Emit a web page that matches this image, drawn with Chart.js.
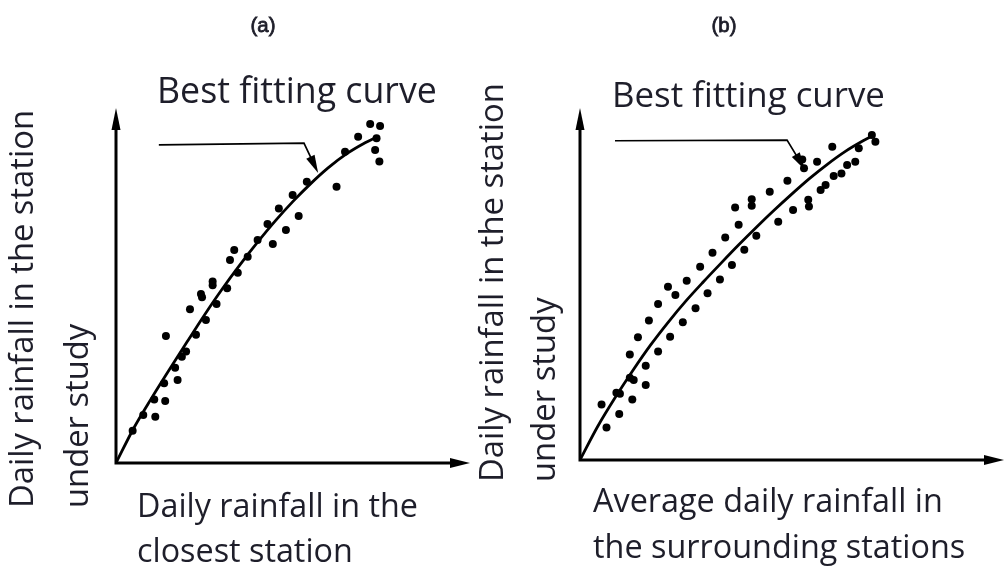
<!DOCTYPE html>
<html>
<head>
<meta charset="utf-8">
<script src="https://cdn.jsdelivr.net/npm/chart.js@4.4.1/dist/chart.umd.min.js"></script>
<style>
  html, body { margin: 0; padding: 0; background: #fff; }
  #wrap { position: relative; width: 1008px; height: 569px; overflow: hidden; }
  #wrap canvas { position: absolute; left: 0; top: 0; }
</style>
</head>
<body>
<div id="wrap">
  <canvas id="chartA" width="1008" height="569"></canvas>
  <canvas id="chartB" width="1008" height="569"></canvas>
</div>
<script>
// ---- (a) closest station: observed pairs, fitted curve, leader line ----
const pointsA = [
  [0.47, 0.91], [0.77, 1.35], [1.11, 1.30], [1.08, 1.79], [1.39, 1.75],
  [1.36, 2.25], [1.74, 2.34], [1.67, 2.68], [1.86, 2.99], [1.98, 3.14],
  [1.41, 3.58], [2.26, 3.61], [2.54, 4.03], [2.09, 4.33], [2.40, 4.76],
  [2.43, 4.67], [2.84, 4.48], [2.73, 5.11], [2.73, 5.01], [3.14, 4.92],
  [3.22, 5.72], [3.34, 6.00], [3.44, 5.36], [3.72, 5.81], [4.00, 6.28],
  [4.43, 6.17], [4.28, 6.73], [4.80, 6.56], [4.60, 7.17], [5.16, 6.96],
  [4.99, 7.55], [5.39, 7.92], [6.23, 7.78], [6.47, 8.77], [6.84, 9.19],
  [7.18, 9.55], [7.46, 9.49], [7.36, 9.15], [7.32, 8.82], [7.44, 8.49]
];
const curveA = [
  [0, 0], [0.5, 0.98], [1.0, 1.82], [1.5, 2.62], [2.0, 3.40], [2.5, 4.17],
  [3.0, 4.90], [3.5, 5.58], [4.0, 6.22], [4.5, 6.82], [5.0, 7.37], [5.5, 7.87],
  [6.0, 8.32], [6.5, 8.70], [7.0, 9.00], [7.4, 9.20]
];
const leaderA = [[1.21, 8.96], [5.31, 9.01], [5.71, 8.17]];

// ---- (b) surrounding stations average ----
const pointsB = [
  [0.75, 0.92], [1.11, 1.31], [0.61, 1.58], [1.03, 1.91], [1.13, 1.88],
  [1.48, 1.72], [1.41, 2.34], [1.52, 2.27], [1.86, 2.13], [1.86, 2.68],
  [1.41, 3.00], [2.21, 3.08], [1.64, 3.49], [2.55, 3.50], [1.95, 3.96],
  [2.91, 3.91], [2.21, 4.43], [2.49, 4.92], [2.70, 4.69], [3.27, 4.31],
  [3.02, 5.09], [3.61, 4.74], [3.40, 5.49], [3.96, 5.13], [3.75, 5.89],
  [4.30, 5.54], [4.11, 6.32], [4.65, 5.97], [4.49, 6.68], [4.99, 6.37],
  [4.39, 7.17], [4.86, 7.41], [4.86, 7.22], [5.61, 6.77], [5.37, 7.62],
  [6.03, 7.10], [5.87, 7.93], [6.46, 7.39], [6.48, 7.20], [6.29, 8.54],
  [6.34, 8.29], [6.71, 8.47], [6.81, 7.67], [6.95, 7.81], [7.18, 8.07],
  [7.40, 8.14], [7.56, 8.38], [7.14, 8.90], [7.79, 8.47], [7.89, 8.86],
  [8.26, 9.23], [8.36, 9.04]
];
const curveB = [
  [0, 0], [0.5, 0.95], [1.0, 1.78], [1.5, 2.55], [2.0, 3.27], [2.5, 3.92],
  [3.0, 4.52], [3.5, 5.07], [4.0, 5.60], [4.5, 6.12], [5.0, 6.62], [5.5, 7.10],
  [6.0, 7.56], [6.5, 8.00], [7.0, 8.40], [7.5, 8.76], [8.0, 9.06], [8.3, 9.22]
];
const leaderB = [[0.99, 9.07], [5.86, 9.09], [6.37, 8.24]];

// ---- text ----
const panelTags = ['(a)', '(b)'];
const calloutText = 'Best fitting curve';
const yTitleLines = ['Daily rainfall in the station', 'under study'];
const xTitleLinesA = ['Daily rainfall in the', 'closest station'];
const xTitleLinesB = ['Average daily rainfall in', 'the surrounding stations'];

const FONT = '"Open Sans", "Liberation Sans", sans-serif';
const TAG_FAMILY = '"Liberation Sans", sans-serif';
const INK = '#1e1e2a';

function fitSize(ctx, text, width, family) {
  ctx.font = '30px ' + (family || FONT);
  return 30 * width / ctx.measureText(text).width;
}

function head(ctx, tx, ty, fx, fy, len, half) {
  const dx = tx - fx, dy = ty - fy, d = Math.hypot(dx, dy) || 1;
  const ux = dx / d, uy = dy / d;
  const bx = tx - ux * len, by = ty - uy * len;
  ctx.beginPath();
  ctx.moveTo(tx, ty);
  ctx.lineTo(bx - uy * half, by + ux * half);
  ctx.lineTo(bx + uy * half, by - ux * half);
  ctx.closePath();
  ctx.fill();
}

// axes with arrowheads, the leader to the curve and all captions
const decor = {
  id: 'decor',
  afterDatasetsDraw(chart, args, o) {
    const ctx = chart.ctx, xs = chart.scales.x, ys = chart.scales.y;
    const x0 = xs.getPixelForValue(0), y0 = ys.getPixelForValue(0);
    const xe = xs.getPixelForValue(xs.max), ye = ys.getPixelForValue(ys.max);
    ctx.save();
    ctx.fillStyle = '#000';
    ctx.strokeStyle = '#000';
    ctx.lineWidth = 3;
    ctx.lineCap = 'butt';
    ctx.beginPath();
    ctx.moveTo(x0, y0 + 1.5); ctx.lineTo(x0, ye + 16);
    ctx.moveTo(x0 - 1.5, y0); ctx.lineTo(xe - 16, y0);
    ctx.stroke();
    head(ctx, xe, y0, x0, y0, 20, 5);
    head(ctx, x0, ye, x0, y0, 22, 4.5);

    // leader
    const pts = o.leader.map(([x, y]) => [xs.getPixelForValue(x), ys.getPixelForValue(y)]);
    const n = pts.length;
    const [tx, ty] = pts[n - 1], [px, py] = pts[n - 2];
    const d = Math.hypot(tx - px, ty - py);
    ctx.lineWidth = 1.7;
    ctx.beginPath();
    ctx.moveTo(pts[0][0], pts[0][1]);
    for (let i = 1; i < n - 1; i++) ctx.lineTo(pts[i][0], pts[i][1]);
    ctx.lineTo(tx - (tx - px) / d * 12, ty - (ty - py) / d * 12);
    ctx.stroke();
    head(ctx, tx, ty, px, py, 18, 4.6);
    ctx.restore();
  },
  afterDraw(chart, args, o) {
    const ctx = chart.ctx;
    ctx.save();
    ctx.fillStyle = INK;
    ctx.strokeStyle = INK;
    ctx.textBaseline = 'alphabetic';

    // panel tag, slightly heavier than the captions
    let s = fitSize(ctx, o.tag.text, o.tag.width, TAG_FAMILY);
    ctx.font = s + 'px ' + TAG_FAMILY;
    ctx.textAlign = 'center';
    ctx.lineWidth = 0.8;
    ctx.fillText(o.tag.text, o.tag.cx, o.tag.base);
    ctx.strokeText(o.tag.text, o.tag.cx, o.tag.base);

    ctx.textAlign = 'left';
    // callout
    s = fitSize(ctx, calloutText, o.callout.width);
    ctx.font = s + 'px ' + FONT;
    ctx.fillText(calloutText, o.callout.x, o.callout.base);

    // x title
    s = fitSize(ctx, o.xTitle.lines[0], o.xTitle.width);
    ctx.font = s + 'px ' + FONT;
    o.xTitle.lines.forEach((t, i) => ctx.fillText(t, o.xTitle.x, o.xTitle.base[i]));

    // y title, read bottom to top
    s = fitSize(ctx, yTitleLines[0], o.yTitle.width);
    ctx.font = s + 'px ' + FONT;
    yTitleLines.forEach((t, i) => {
      ctx.save();
      ctx.translate(o.yTitle.baseX[i], o.yTitle.startY);
      ctx.rotate(-Math.PI / 2);
      ctx.fillText(t, 0, 0);
      ctx.restore();
    });
    ctx.restore();
  }
};

function makePanel(id, points, curve, xMax, padding, deco) {
  return new Chart(document.getElementById(id), {
    type: 'scatter',
    data: {
      datasets: [
        {
          data: curve.map(([x, y]) => ({ x, y })),
          showLine: true,
          borderColor: '#000',
          borderWidth: 2.8,
          pointRadius: 0,
          cubicInterpolationMode: 'monotone',
          fill: false,
          order: 0
        },
        {
          data: points.map(([x, y]) => ({ x, y })),
          pointRadius: 4,
          pointBackgroundColor: '#000',
          pointBorderWidth: 0,
          order: 1
        }
      ]
    },
    options: {
      responsive: false,
      animation: false,
      devicePixelRatio: 1,
      events: [],
      layout: { padding },
      scales: {
        x: { type: 'linear', min: 0, max: xMax, display: false },
        y: { type: 'linear', min: 0, max: 10, display: false }
      },
      plugins: {
        legend: { display: false },
        tooltip: { enabled: false },
        decor: deco
      }
    },
    plugins: [decor]
  });
}

makePanel('chartA', pointsA, curveA, 10,
  { left: 116, right: 538, top: 108, bottom: 106 },
  {
    leader: leaderA,
    tag: { text: panelTags[0], cx: 263, base: 32, width: 25 },
    callout: { x: 157, base: 103, width: 280 },
    xTitle: { lines: xTitleLinesA, x: 137, base: [517, 562], width: 281 },
    yTitle: { baseX: [33, 88], startY: 508, width: 398 }
  });

makePanel('chartB', pointsB, curveB, 12,
  { left: 580, right: 2, top: 108, bottom: 109 },
  {
    leader: leaderB,
    tag: { text: panelTags[1], cx: 724, base: 32, width: 25 },
    callout: { x: 612, base: 107, width: 273 },
    xTitle: { lines: xTitleLinesB, x: 593, base: [512, 558], width: 350 },
    yTitle: { baseX: [503, 555], startY: 482, width: 399 }
  });
</script>
</body>
</html>
